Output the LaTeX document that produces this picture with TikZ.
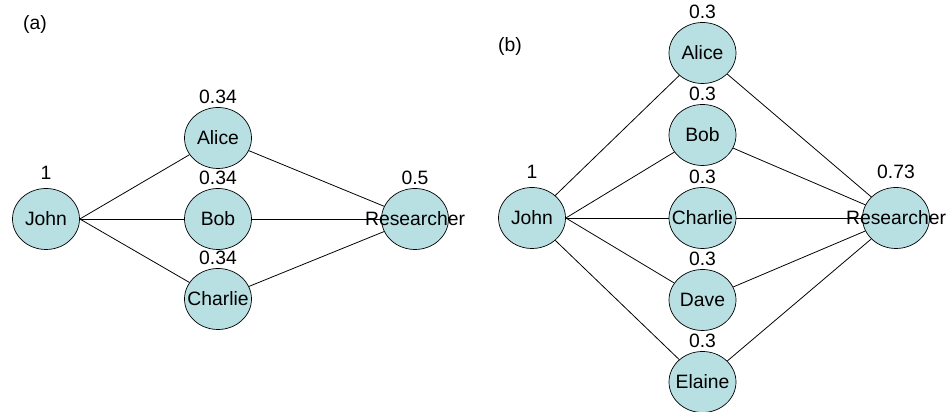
\documentclass[tikz,border=0pt]{standalone}
\usepackage{fontspec}
\setmainfont{Liberation Sans}
\usetikzlibrary{shapes.geometric}
\definecolor{nodefill}{RGB}{184,223,226}
\newcommand{\nm}[1]{\makebox[0pt]{#1}}

\begin{document}
\begin{tikzpicture}[font=\fontsize{11}{13.2}\selectfont,
    person/.style={ellipse, draw, fill=nodefill, line width=0.4pt,
        minimum width=1.34cm, minimum height=1.22cm, inner sep=0pt},
    link/.style={line width=0.45pt},
    wt/.style={label={[label distance=-1.5pt]above:#1}},
    wthi/.style={label={[label distance=1.5pt]above:#1}}]
    \useasboundingbox (0,0) rectangle (18.96,8.24);
    % (a) drei Vermittler
    \node (capa) at (0.70,7.74) {(a)};
    \node[person, wthi=1] (ja) at (0.92,3.86) {John};
    \node[person, wt=0.34] (aa) at (4.36,5.48) {Alice};
    \node[person, wt=0.34] (ba) at (4.36,3.86) {Bob};
    \node[person, wt=0.34] (ca) at (4.36,2.26) {\nm{Charlie}};
    \node[person, wt=0.5] (ra) at (8.30,3.86) {\nm{Researcher}};
    \foreach \m in {aa,ba,ca} {
        \draw[link] (ja.east) -- (\m);
        \draw[link] (\m) -- (ra);
    }
    % (b) fuenf Vermittler
    \node (capb) at (10.20,7.30) {(b)};
    \node[person, wthi=1] (jb) at (10.64,3.88) {John};
    \foreach \n/\name/\y in {ab/Alice/7.18, bb/Bob/5.54, cb/Charlie/3.88,
                             db/Dave/2.24, eb/Elaine/0.60} {
        \node[person, wt=0.3] (\n) at (14.05,\y) {\nm{\name}};
    }
    \node[person, wthi=0.73] (rb) at (17.92,3.88) {\nm{Researcher}};
    \draw[link] (jb) -- (ab);
    \draw[link] (jb) -- (eb);
    \foreach \m in {bb,cb,db} {
        \draw[link] (jb.east) -- (\m);
    }
    \foreach \m in {ab,bb,cb,db,eb} {
        \draw[link] (\m) -- (rb);
    }
\end{tikzpicture}
\end{document}
